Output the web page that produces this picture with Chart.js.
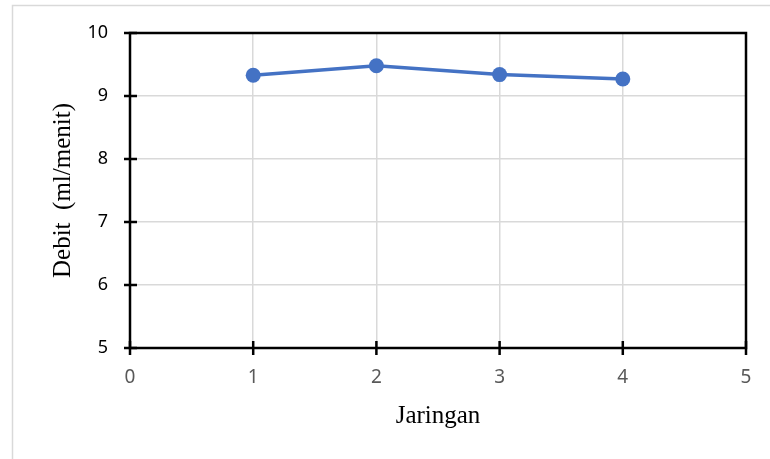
<!DOCTYPE html>
<html>
<head>
<meta charset="utf-8">
<script src="https://cdn.jsdelivr.net/npm/chart.js@4"></script>
<style>
  html, body { margin: 0; padding: 0; background: #fff; }
  canvas { display: block; }
</style>
</head>
<body>
<canvas id="c" width="770" height="459"></canvas>
<script>
// Debit per jaringan
const jaringan = [1, 2, 3, 4];
const debit = [9.33, 9.48, 9.34, 9.27];
const xTicks = [0, 1, 2, 3, 4, 5];
const yTicks = [5, 6, 7, 8, 9, 10];

const points = jaringan.map((x, i) => ({ x: x, y: debit[i] }));

// Outer light frame of the chart object
const outerFrame = {
  id: 'outerFrame',
  beforeDraw(chart) {
    const ctx = chart.ctx;
    ctx.save();
    ctx.fillStyle = '#fff';
    ctx.fillRect(0, 0, chart.width, chart.height);
    ctx.strokeStyle = '#d9d9d9';
    ctx.lineWidth = 1.5;
    ctx.strokeRect(12.5, 5.5, chart.width + 20, chart.height + 20);
    ctx.restore();
  }
};

// Black plot frame with tick marks crossing the axes
const plotFrame = {
  id: 'plotFrame',
  beforeDatasetsDraw(chart) {
    const { ctx, chartArea: a, scales } = chart;
    ctx.save();
    ctx.strokeStyle = '#000';
    ctx.lineWidth = 2.5;
    ctx.strokeRect(a.left, a.top, a.right - a.left, a.bottom - a.top);
    ctx.beginPath();
    yTicks.forEach(v => {
      const y = scales.y.getPixelForValue(v);
      ctx.moveTo(a.left - 6, y);
      ctx.lineTo(a.left + 7, y);
    });
    xTicks.forEach(v => {
      const x = scales.x.getPixelForValue(v);
      ctx.moveTo(x, a.bottom - 7);
      ctx.lineTo(x, a.bottom + 7);
    });
    ctx.stroke();
    ctx.restore();
  }
};

new Chart(document.getElementById('c'), {
  type: 'scatter',
  data: {
    datasets: [{
      data: points,
      showLine: true,
      borderColor: '#4472C4',
      backgroundColor: '#4472C4',
      borderWidth: 3.5,
      pointRadius: 7.5,
      pointHoverRadius: 7.5,
      pointBorderWidth: 0
    }]
  },
  options: {
    responsive: false,
    animation: false,
    events: [],
    layout: { padding: { left: 0, top: 33, right: 24, bottom: 0 } },
    plugins: { legend: { display: false }, tooltip: { enabled: false } },
    scales: {
      x: {
        type: 'linear',
        min: 0, max: 5,
        afterBuildTicks: s => { s.ticks = xTicks.map(v => ({ value: v })); },
        afterFit: s => { s.height = 111; },
        grid: { color: '#d9d9d9', lineWidth: 1.5, drawTicks: false },
        border: { display: false },
        ticks: {
          padding: 18.5,
          color: '#595959',
          font: { family: 'Noto Sans', size: 19 }
        },
        title: {
          display: true,
          text: 'Jaringan',
          color: '#000',
          font: { family: 'Liberation Serif', size: 25 },
          padding: { top: 0, bottom: 27.5 }
        }
      },
      y: {
        type: 'linear',
        min: 5, max: 10,
        afterBuildTicks: s => { s.ticks = yTicks.map(v => ({ value: v })); },
        afterFit: s => { s.width = 130; },
        grid: { color: '#d9d9d9', lineWidth: 1.5, drawTicks: false },
        border: { display: false },
        ticks: {
          padding: 22,
          color: '#000',
          font: { family: 'Noto Sans', size: 18 }
        },
        title: {
          display: true,
          text: 'Debit  (ml/menit)',
          color: '#000',
          font: { family: 'Liberation Serif', size: 25 },
          padding: { top: 48.5, bottom: 0 }
        }
      }
    }
  },
  plugins: [outerFrame, plotFrame]
});
</script>
</body>
</html>
